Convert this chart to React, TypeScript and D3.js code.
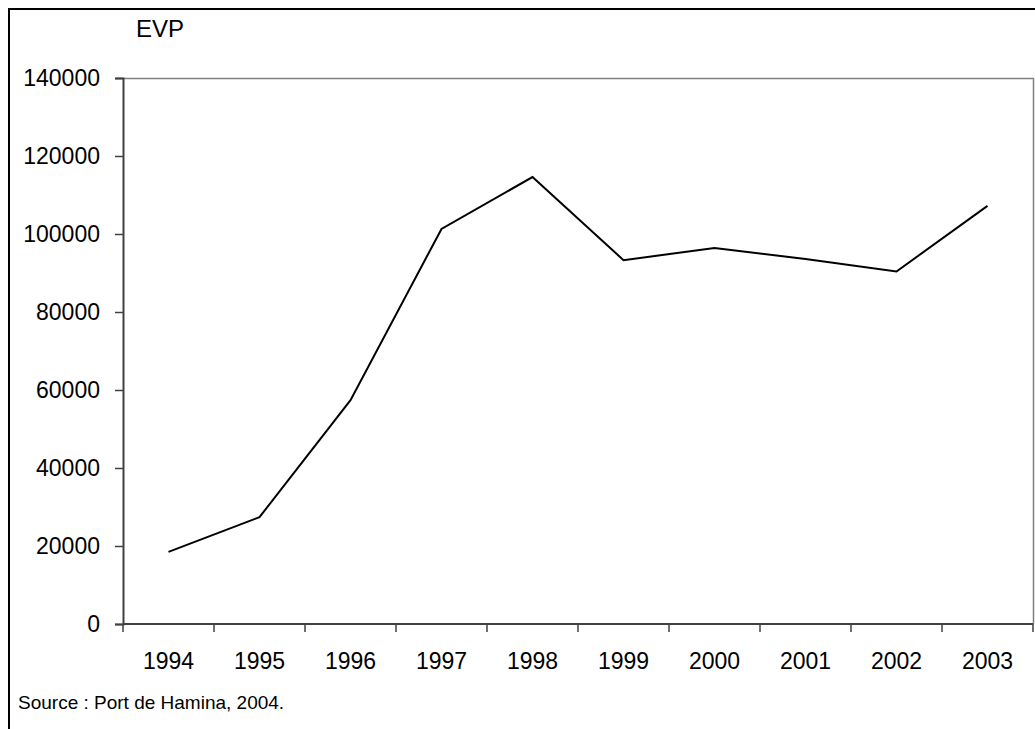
import React, { useEffect, useRef } from "react";
import * as d3 from "d3";

const years = ["1994", "1995", "1996", "1997", "1998", "1999", "2000", "2001", "2002", "2003"];
const evpValues = [18500, 27400, 57400, 101300, 114600, 93300, 96400, 93600, 90400, 107200];
const yTicks = [0, 20000, 40000, 60000, 80000, 100000, 120000, 140000];
const yLabel = "EVP";
const sourceText = "Source : Port de Hamina, 2004.";

export default function App() {
  const svgRef = useRef<SVGSVGElement>(null);

  useEffect(() => {
    const width = 1035, height = 729;
    const plot = { left: 123, right: 1033, top: 78, bottom: 624 };
    const font = "Arial, 'Liberation Sans', sans-serif";

    const svg = d3.select(svgRef.current);
    svg.selectAll("*").remove();

    // outer frame (runs off the right/bottom edges like the original)
    svg.append("rect")
      .attr("x", 9).attr("y", 9)
      .attr("width", width + 20).attr("height", height + 20)
      .attr("fill", "#fff")
      .attr("stroke", "#000")
      .attr("stroke-width", 2);

    const x = d3.scaleBand<string>()
      .domain(years)
      .range([plot.left, plot.right]);
    const y = d3.scaleLinear()
      .domain([0, 140000])
      .range([plot.bottom, plot.top]);

    // plot area border (top/right gray)
    svg.append("path")
      .attr("d", `M${plot.left},${plot.top + 0.5}H${plot.right + 0.5}V${plot.bottom}`)
      .attr("fill", "none")
      .attr("stroke", "#808080")
      .attr("stroke-width", 1.5);

    // y axis
    const yAxis = svg.append("g")
      .attr("transform", `translate(${plot.left},0)`)
      .call(d3.axisLeft(y).tickValues(yTicks).tickSize(8).tickPadding(15).tickFormat(d => String(d)));
    yAxis.select(".domain").attr("stroke", "#404040").attr("stroke-width", 2);
    yAxis.selectAll(".tick line").attr("stroke", "#404040").attr("stroke-width", 1.5);
    yAxis.selectAll(".tick text")
      .attr("font-family", font).attr("font-size", 23).attr("fill", "#000");

    // x axis: ticks on category boundaries
    const xAxis = svg.append("g")
      .attr("transform", `translate(0,${plot.bottom})`);
    xAxis.append("line")
      .attr("x1", plot.left).attr("x2", plot.right)
      .attr("stroke", "#404040").attr("stroke-width", 2);
    const bounds = years.map(d => x(d) as number).concat([plot.right]);
    xAxis.selectAll(".xtick")
      .data(bounds)
      .join("line")
      .attr("class", "xtick")
      .attr("x1", d => d).attr("x2", d => d)
      .attr("y1", 0).attr("y2", 8)
      .attr("stroke", "#404040").attr("stroke-width", 1.5);
    xAxis.selectAll(".xlabel")
      .data(years)
      .join("text")
      .attr("class", "xlabel")
      .attr("x", d => (x(d) as number) + x.bandwidth() / 2)
      .attr("y", 45)
      .attr("text-anchor", "middle")
      .attr("font-family", font).attr("font-size", 23)
      .text(d => d);

    // data line
    const line = d3.line<number>()
      .x((d, i) => (x(years[i]) as number) + x.bandwidth() / 2)
      .y(d => y(d));
    svg.append("path")
      .datum(evpValues)
      .attr("d", line)
      .attr("fill", "none")
      .attr("stroke", "#000")
      .attr("stroke-width", 2);

    svg.append("text")
      .attr("x", 136).attr("y", 37)
      .attr("font-family", font).attr("font-size", 24)
      .text(yLabel);

    svg.append("text")
      .attr("x", 18).attr("y", 709)
      .attr("font-family", font).attr("font-size", 19)
      .text(sourceText);
  }, []);

  return (
    <svg ref={svgRef} width={1035} height={729}
      style={{ position: "absolute", left: 0, top: 0, display: "block", background: "#fff" }} />
  );
}
